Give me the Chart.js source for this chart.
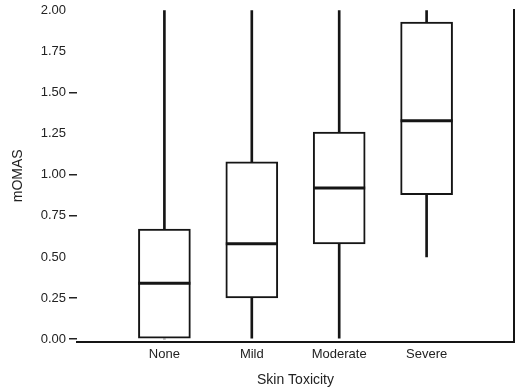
<!DOCTYPE html>
<html>
<head>
<meta charset="utf-8">
<script src="https://cdn.jsdelivr.net/npm/chart.js@4.4.1/dist/chart.umd.min.js"></script>
<style>
  html, body { margin: 0; padding: 0; background: #fff; }
  #wrap { width: 520px; height: 390px; }
</style>
</head>
<body>
<div id="wrap"><canvas id="chart"></canvas></div>
<script>
// box plot summary per group
const categories = ['None', 'Mild', 'Moderate', 'Severe'];
const whiskerLow = [0.00, 0.00, 0.00, 0.50];
const q1 = [0.00, 0.25, 0.58, 0.88];
const median = [0.34, 0.58, 0.92, 1.33];
const q3 = [0.67, 1.08, 1.26, 1.93];
const whiskerHigh = [2.00, 2.00, 2.00, 2.00];
const yTicks = [0, 0.25, 0.5, 0.75, 1.0, 1.25, 1.5, 1.75, 2.0];
const markedTicks = [0, 0.25, 0.75, 1.0, 1.5]; // ticks with a visible dash

// empty slot on each side so the groups sit at 1..4 of 0..5
const labels = ['', ...categories, ''];
const pad = arr => [null, ...arr, null];

const ink = '#151515';
Chart.defaults.font.family = '"Liberation Sans", Arial, Helvetica, sans-serif';
Chart.defaults.font.size = 13;
Chart.defaults.color = '#222';

// median bars drawn on top of the boxes, using the box elements for x/width
const medianPlugin = {
  id: 'medians',
  afterDatasetsDraw(chart) {
    const meta = chart.getDatasetMeta(2);
    const y = chart.scales.y;
    const ctx = chart.ctx;
    ctx.save();
    ctx.strokeStyle = ink;
    ctx.lineWidth = 3;
    categories.forEach((c, i) => {
      const bar = meta.data[i + 1];
      if (!bar) return;
      const py = y.getPixelForValue(median[i]);
      ctx.beginPath();
      ctx.moveTo(bar.x - bar.width / 2, py);
      ctx.lineTo(bar.x + bar.width / 2, py);
      ctx.stroke();
    });
    ctx.restore();
  }
};

new Chart(document.getElementById('chart'), {
  type: 'bar',
  data: {
    labels: labels,
    datasets: [
      {
        label: 'upper whisker',
        data: pad(categories.map((c, i) => [q3[i], whiskerHigh[i]])),
        backgroundColor: ink,
        borderWidth: 0,
        barThickness: 2,
        grouped: false
      },
      {
        label: 'lower whisker',
        data: pad(categories.map((c, i) => [whiskerLow[i], q1[i]])),
        backgroundColor: ink,
        borderWidth: 0,
        barThickness: 2,
        grouped: false
      },
      {
        label: 'box',
        data: pad(categories.map((c, i) => [q1[i], q3[i]])),
        backgroundColor: '#fff',
        borderColor: ink,
        borderWidth: 2,
        borderSkipped: false,
        barThickness: 52,
        grouped: false
      }
    ]
  },
  options: {
    responsive: true,
    maintainAspectRatio: false,
    animation: false,
    layout: { padding: { left: 6, right: 6, top: 0, bottom: 0 } },
    plugins: {
      legend: { display: false },
      tooltip: { enabled: false }
    },
    scales: {
      x: {
        offset: false,
        grid: { display: false, drawTicks: false },
        border: { display: true, color: ink, width: 2 },
        ticks: { autoSkip: false, maxRotation: 0, padding: 5, color: '#222' },
        title: { display: true, text: 'Skin Toxicity', color: '#222', font: { size: 14 }, padding: { top: 0, bottom: 1 } },
        afterFit: s => { s.height = 48; }
      },
      y: {
        min: -0.018,
        max: 2.007,
        afterBuildTicks: s => { s.ticks = yTicks.map(v => ({ value: v })); },
        ticks: { padding: 3, callback: v => v.toFixed(2), color: '#222', font: { lineHeight: 1 } },
        grid: {
          drawOnChartArea: false,
          drawTicks: true,
          tickLength: 8,
          lineWidth: 1.5,
          tickColor: c => markedTicks.includes(c.tick.value) ? '#222' : 'rgba(0,0,0,0)'
        },
        border: { display: false },
        title: { display: true, text: 'mOMAS', color: '#222', font: { size: 14 } },
        afterFit: s => { s.width = 71; }
      },
      y2: {
        position: 'right',
        grid: { display: false },
        ticks: { display: false },
        border: { display: true, color: ink, width: 2 },
        afterFit: s => { s.width = 0; }
      }
    }
  },
  plugins: [medianPlugin]
});
</script>
</body>
</html>
